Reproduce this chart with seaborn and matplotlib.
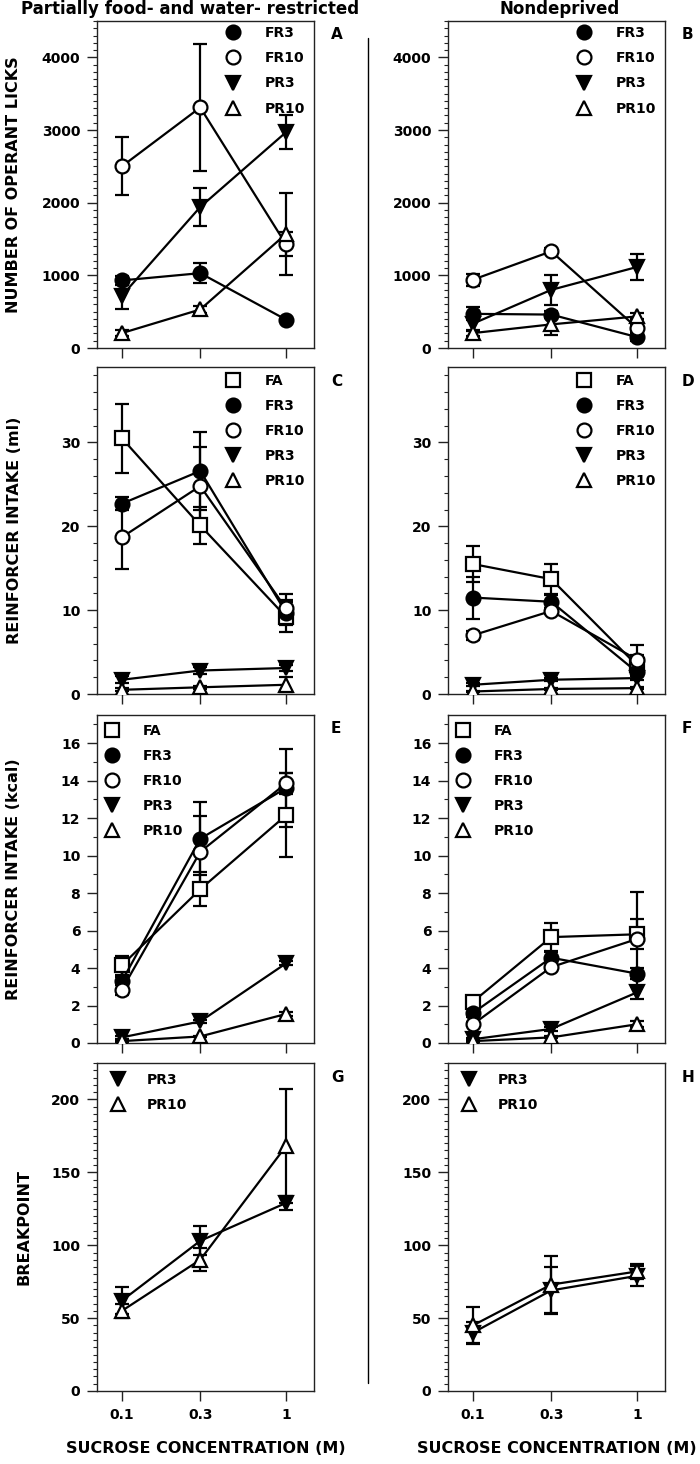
import numpy as np
import pandas as pd
import seaborn as sns
import matplotlib.pyplot as plt
from matplotlib.lines import Line2D
from matplotlib.ticker import FixedLocator, MultipleLocator, NullLocator, FixedFormatter, NullFormatter

# Sucrose concentrations (M)
conc = [0.1, 0.3, 1]
conc_labels = ['0.1', '0.3', '1']

# A: operant licks, partially food- and water-restricted
licks_restr = {'FR3': [930, 1030, 390], 'FR10': [2500, 3310, 1425],
               'PR3': [720, 1940, 2970], 'PR10': [205, 530, 1570]}
licks_restr_err = {'FR3': [60, 140, 0], 'FR10': [400, 870, 165],
                   'PR3': [185, 260, 230], 'PR10': [40, 50, 560]}

# B: operant licks, nondeprived
licks_nondep = {'FR3': [470, 460, 150], 'FR10': [940, 1330, 275],
                'PR3': [335, 800, 1115], 'PR10': [205, 325, 435]}
licks_nondep_err = {'FR3': [90, 50, 50], 'FR10': [80, 40, 40],
                    'PR3': [100, 210, 180], 'PR10': [40, 140, 40]}

# C: reinforcer intake (ml), restricted
ml_restr = {'FA': [30.5, 20.1, 9.2], 'FR3': [22.7, 26.6, 9.7], 'FR10': [18.7, 24.8, 10.2],
            'PR3': [1.7, 2.8, 3.1], 'PR10': [0.5, 0.8, 1.1]}
ml_restr_err = {'FA': [4.1, 2.2, 1.8], 'FR3': [0.8, 4.6, 1.5], 'FR10': [3.8, 4.7, 1.7],
                'PR3': [0.4, 0.4, 0.4], 'PR10': [0.2, 0.2, 0.9]}

# D: reinforcer intake (ml), nondeprived
ml_nondep = {'FA': [15.5, 13.7, 3.4], 'FR3': [11.5, 11.0, 2.6], 'FR10': [7.0, 9.9, 4.1],
             'PR3': [1.1, 1.7, 1.9], 'PR10': [0.3, 0.6, 0.7]}
ml_nondep_err = {'FA': [2.2, 1.8, 1.2], 'FR3': [2.5, 0.8, 0.5], 'FR10': [0.5, 0.4, 1.8],
                 'PR3': [0.2, 0.2, 0.2], 'PR10': [0.1, 0.1, 0.1]}

# E: reinforcer intake (kcal), restricted
kcal_restr = {'FA': [4.15, 8.2, 12.15], 'FR3': [3.3, 10.9, 13.6], 'FR10': [2.85, 10.2, 13.85],
              'PR3': [0.3, 1.15, 4.25], 'PR10': [0.1, 0.35, 1.55]}
kcal_restr_err = {'FA': [0.5, 0.9, 2.25], 'FR3': [0.2, 1.95, 2.1], 'FR10': [0.3, 1.9, 0.55],
                  'PR3': [0.1, 0.1, 0.1], 'PR10': [0.05, 0.05, 0.1]}

# F: reinforcer intake (kcal), nondeprived
kcal_nondep = {'FA': [2.2, 5.65, 5.8], 'FR3': [1.6, 4.55, 3.7], 'FR10': [1.0, 4.05, 5.55],
               'PR3': [0.2, 0.75, 2.7], 'PR10': [0.1, 0.3, 1.0]}
kcal_nondep_err = {'FA': [0.2, 0.75, 0.8], 'FR3': [0.2, 0.3, 0.3], 'FR10': [0.1, 0.2, 2.5],
                   'PR3': [0.05, 0.1, 0.35], 'PR10': [0.05, 0.05, 0.15]}

# G / H: breakpoint
bp_restr = {'PR3': [62, 103, 129], 'PR10': [55, 90, 168]}
bp_restr_err = {'PR3': [9, 10, 5], 'PR10': [5, 8, 39]}
bp_nondep = {'PR3': [40, 69, 79], 'PR10': [45, 73, 82]}
bp_nondep_err = {'PR3': [7, 16, 7], 'PR10': [12.7, 19.6, 5]}

# marker, face colour per schedule
styles = {'FA': ('s', 'white'), 'FR3': ('o', 'black'), 'FR10': ('o', 'white'),
          'PR3': ('v', 'black'), 'PR10': ('^', 'white')}
msize = {'s': 10.5, 'o': 10, 'v': 10, '^': 10}

sns.set_style('ticks')
plt.rcParams['font.family'] = ['DejaVu Sans']
plt.rcParams['font.weight'] = 'bold'
plt.rcParams['text.color'] = 'black'
plt.rcParams['axes.labelcolor'] = 'black'
plt.rcParams['xtick.color'] = 'black'
plt.rcParams['ytick.color'] = 'black'

W, H = 700, 1464
fig = plt.figure(figsize=(W / 100, H / 100), dpi=100)


def px_axes(left, right, top, bottom):
    return fig.add_axes([left / W, 1 - bottom / H, (right - left) / W, (bottom - top) / H])


def draw_panel(ax, means, errs, ylim, yticks, minor, leg_xy, leg_pad, bottom_row, letter):
    ax.set_xscale('log')
    for name, vals in means.items():
        m, fc = styles[name]
        ax.errorbar(conc, vals, yerr=errs[name], fmt='none', ecolor='black',
                    elinewidth=1.6, capsize=5, capthick=1.6, zorder=2)
        sns.lineplot(x=conc, y=vals, ax=ax, color='black', linewidth=1.6,
                     marker=m, markersize=msize[m], markerfacecolor=fc,
                     markeredgecolor='black', markeredgewidth=1.6, legend=False, zorder=3)
    ax.set_xlim(0.0705, 1.48)
    ax.set_ylim(*ylim)
    ax.yaxis.set_major_locator(FixedLocator(yticks))
    ax.yaxis.set_minor_locator(MultipleLocator(minor))
    ax.xaxis.set_major_locator(FixedLocator(conc))
    ax.xaxis.set_minor_locator(NullLocator())
    if bottom_row:
        ax.xaxis.set_major_formatter(FixedFormatter(conc_labels))
    else:
        ax.xaxis.set_major_formatter(NullFormatter())
    ax.tick_params(axis='both', which='major', direction='out', length=7, width=1,
                   labelsize=10, pad=5, color='#222222', labelcolor='black')
    ax.tick_params(axis='y', which='minor', direction='out', length=3, width=0.8, color='#222222')
    for lab in ax.get_xticklabels() + ax.get_yticklabels():
        lab.set_fontweight('bold')
    for sp in ax.spines.values():
        sp.set_linewidth(1.0)
        sp.set_color('#222222')
    ax.set_xlabel('')
    ax.set_ylabel('')

    handles = [Line2D([], [], linestyle='none', marker=styles[n][0], markersize=msize[styles[n][0]],
                      markerfacecolor=styles[n][1], markeredgecolor='black',
                      markeredgewidth=1.6) for n in means]
    ax.legend(handles, list(means.keys()), loc='upper left', bbox_to_anchor=leg_xy,
              frameon=False, borderpad=0, borderaxespad=0, handlelength=1.0,
              handletextpad=leg_pad, labelspacing=0.8, labelcolor='black',
              prop={'size': 10, 'weight': 'bold'})
    pos = ax.get_position()
    fig.text(pos.x1 + 17 / W, pos.y1 - 14 / H, letter, fontsize=11, fontweight='bold',
             ha='left', va='center', color='black')
    return ax


rows = [(21, 348), (367, 694), (715, 1043), (1063, 1391)]
left_col = (97, 314)
right_col = (448, 665)

panels = [
    (licks_restr, licks_restr_err, licks_nondep, licks_nondep_err,
     (0, 4500), [0, 1000, 2000, 3000, 4000], 100, (0.594, 0.984), 1.8, 'A', 'B'),
    (ml_restr, ml_restr_err, ml_nondep, ml_nondep_err,
     (0, 39), [0, 10, 20, 30], 2, (0.594, 0.980), 1.8, 'C', 'D'),
    (kcal_restr, kcal_restr_err, kcal_nondep, kcal_nondep_err,
     (0, 17.5), list(range(0, 17, 2)), 1, (0.037, 0.974), 1.73, 'E', 'F'),
    (bp_restr, bp_restr_err, bp_nondep, bp_nondep_err,
     (0, 225), [0, 50, 100, 150, 200], 5, (0.0645, 0.971), 1.59, 'G', 'H'),
]

axes_left = []
for i, (top, bottom) in enumerate(rows):
    lm, le, rm, re_, ylim, yt, mn, legxy, lpad, la, lb = panels[i]
    last = i == len(rows) - 1
    axl = px_axes(left_col[0], left_col[1], top, bottom)
    draw_panel(axl, lm, le, ylim, yt, mn, legxy, lpad, last, la)
    axr = px_axes(right_col[0], right_col[1], top, bottom)
    draw_panel(axr, rm, re_, ylim, yt, mn, legxy, lpad, last, lb)
    axes_left.append(axl)
    if last:
        for a in (axl, axr):
            a.set_xlabel('SUCROSE CONCENTRATION (M)', fontsize=11.5, fontweight='bold',
                         labelpad=14, color='black')

ylabels = ['NUMBER OF OPERANT LICKS', 'REINFORCER INTAKE (ml)',
           'REINFORCER INTAKE (kcal)', 'BREAKPOINT']
ylab_x = [-0.35, -0.345, -0.35, -0.30]
for a, lab, lx in zip(axes_left, ylabels, ylab_x):
    a.set_ylabel(lab, fontsize=11.5, fontweight='bold', color='black')
    a.yaxis.set_label_coords(lx, 0.5)

fig.text(190 / W, 1 - 9 / H, 'Partially food- and water- restricted', fontsize=12,
         fontweight='bold', ha='center', va='center', color='black')
fig.text(560 / W, 1 - 9 / H, 'Nondeprived', fontsize=12, fontweight='bold',
         ha='center', va='center', color='black')

fig.add_artist(Line2D([368 / W, 368 / W], [1 - 38 / H, 1 - 1383 / H], color='black', linewidth=1.0))

fig.savefig('out.png', dpi=100)
